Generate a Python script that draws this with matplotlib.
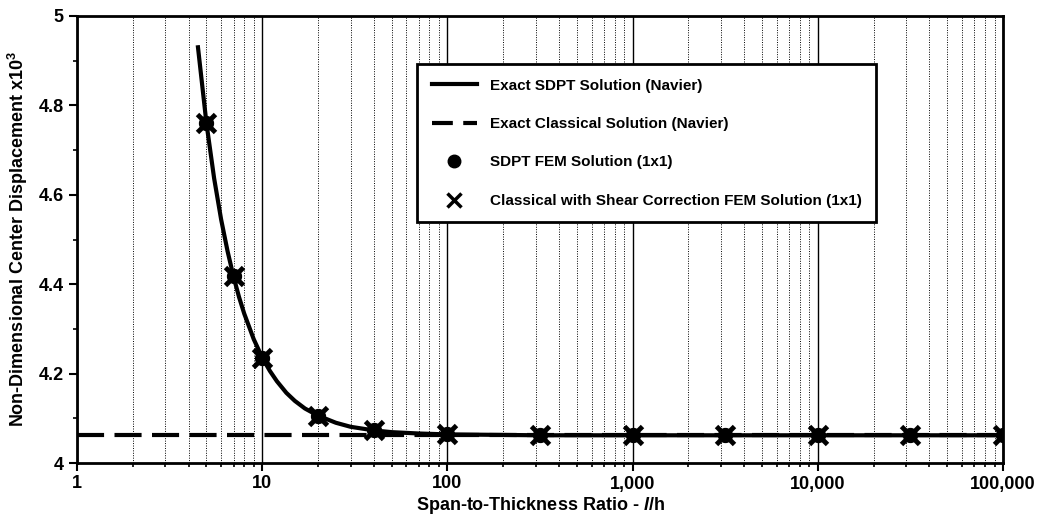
import matplotlib
matplotlib.use("Agg")
import matplotlib.pyplot as plt
from matplotlib.ticker import FixedLocator, FixedFormatter, LogLocator, NullFormatter, MultipleLocator
from matplotlib.lines import Line2D

plt.rcParams['font.family'] = ['Liberation Sans', 'DejaVu Sans']
plt.rcParams['mathtext.fontset'] = 'custom'
plt.rcParams['mathtext.rm'] = 'Liberation Sans:bold'
plt.rcParams['mathtext.it'] = 'Liberation Sans:italic:bold'
plt.rcParams['mathtext.bf'] = 'Liberation Sans:bold'

# Exact SDPT solution curve
sdpt_x = [4.5, 5, 5.5, 6, 6.5, 7, 7.5, 8, 9, 10, 11, 12, 13.5, 15, 17, 20, 25, 30, 40, 50, 70,
          100, 316, 1000, 100000]
sdpt_y = [4.93, 4.76, 4.637, 4.545, 4.474, 4.417, 4.371, 4.334, 4.277, 4.236, 4.206, 4.183,
          4.157, 4.139, 4.122, 4.106, 4.090, 4.081, 4.073, 4.069, 4.066, 4.064, 4.062, 4.062, 4.062]

# Exact classical solution
classical_x = [1, 100000]
classical_y = [4.062, 4.062]

# FEM points
fem_x = [5, 7, 10, 20, 40, 100, 316, 1000, 3162, 10000, 31623, 100000]
fem_sdpt_y = [4.76, 4.418, 4.236, 4.106, 4.073, 4.064, 4.062, 4.062, 4.062, 4.062, 4.062, 4.062]
fem_class_y = [4.76, 4.418, 4.236, 4.106, 4.073, 4.064, 4.062, 4.062, 4.062, 4.062, 4.062, 4.062]

xtick_vals = [1, 10, 100, 1000, 10000, 100000]
xtick_labels = ["1", "10", "100", "1,000", "10,000", "100,000"]
ytick_vals = [4, 4.2, 4.4, 4.6, 4.8, 5]
ytick_labels = ["4", "4.2", "4.4", "4.6", "4.8", "5"]

fig = plt.figure(figsize=(10.38, 5.25), dpi=100)
ax = fig.add_axes([77/1038, 1 - 463/525, (1003-77)/1038, (463-16)/525])

ax.set_xscale('log')
ax.set_xlim(1, 100000)
ax.set_ylim(4, 5)

ax.xaxis.set_major_locator(FixedLocator(xtick_vals))
ax.xaxis.set_major_formatter(FixedFormatter(xtick_labels))
ax.xaxis.set_minor_locator(LogLocator(base=10, subs=range(2, 10)))
ax.xaxis.set_minor_formatter(NullFormatter())
ax.grid(True, which='major', axis='x', color='black', lw=1.0, ls='-')
ax.grid(True, which='minor', axis='x', color='black', lw=0.7, ls=(0, (1, 1.5)))
ax.set_axisbelow(True)

ax.yaxis.set_major_locator(FixedLocator(ytick_vals))
ax.yaxis.set_major_formatter(FixedFormatter(ytick_labels))
ax.yaxis.set_minor_locator(MultipleLocator(0.1))

ax.plot(classical_x, classical_y, color='black', lw=3, ls=(0, (6.5, 2.5)), zorder=3)
ax.plot(sdpt_x, sdpt_y, color='black', lw=3, zorder=4)
ax.plot(fem_x, fem_sdpt_y, ls='none', marker='o', ms=10, color='black', zorder=5)
ax.plot(fem_x, fem_class_y, ls='none', marker='x', ms=13, mew=3.5, color='black', zorder=6)

for s in ax.spines.values():
    s.set_linewidth(2)
    s.set_color('black')

ax.tick_params(axis='both', which='major', direction='out', length=6, width=1.5,
               labelsize=13)
ax.tick_params(axis='both', which='minor', direction='out', length=3, width=1.2)
for lab in ax.get_xticklabels() + ax.get_yticklabels():
    lab.set_fontweight('bold')
ax.tick_params(axis='x', pad=3)

ax.set_xlabel(r"Span-to-Thickness Ratio - $\mathit{l}$/h", fontsize=13, fontweight='bold', labelpad=2)
ax.set_ylabel(r"Non-Dimensional Center Displacement x10$^3$", fontsize=13, fontweight='bold', labelpad=6)

handles = [
    Line2D([], [], color='black', lw=3),
    Line2D([], [], color='black', lw=3, ls=(0, (5, 2.5))),
    Line2D([], [], color='black', ls='none', marker='o', ms=9),
    Line2D([], [], color='black', ls='none', marker='x', ms=10, mew=2.5),
]
labels = [
    "Exact SDPT Solution (Navier)",
    "Exact Classical Solution (Navier)",
    "SDPT FEM Solution (1x1)",
    "Classical with Shear Correction FEM Solution (1x1)",
]
leg = ax.legend(handles, labels, loc='upper left', bbox_to_anchor=((417-77)/926, (463-64)/447),
                frameon=True, fancybox=False, edgecolor='black', framealpha=1,
                prop={'size': 11, 'weight': 'bold'}, handlelength=3.0, labelspacing=1.6,
                borderpad=0.95, handletextpad=0.8, borderaxespad=0)
leg.get_frame().set_linewidth(2)

fig.savefig("out.png", dpi=100)
